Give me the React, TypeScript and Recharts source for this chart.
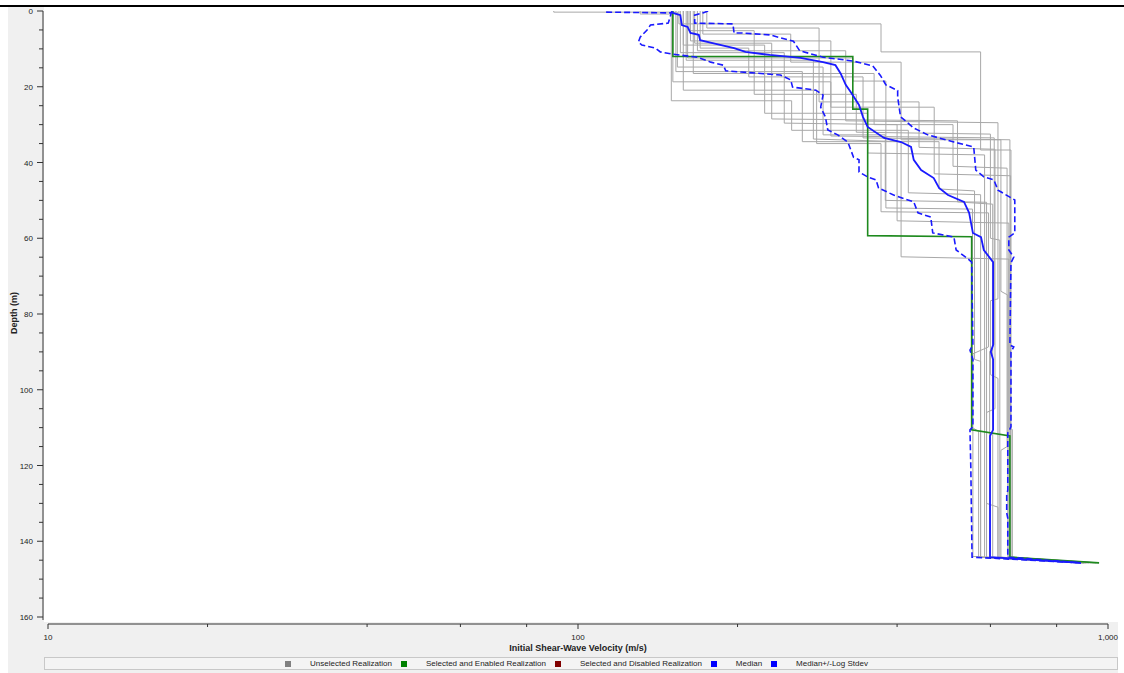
import React from "react";
import { LineChart, Line, XAxis, YAxis } from "recharts";

// [velocity (m/s), depth (m)]
type Pt = [number, number];

const xTicks = [10, 20, 40, 60, 80, 100, 200, 400, 600, 800, 1000];
const xMajor = [10, 100, 1000];
const yTicks = [
  0, 5, 10, 15, 20, 25, 30, 35, 40, 45, 50, 55, 60, 65, 70, 75, 80, 85, 90, 95,
  100, 105, 110, 115, 120, 125, 130, 135, 140, 145, 150, 155, 160,
];

const real01: Pt[] = [[155, 0], [155, 3.4], [373, 3.4], [373, 10.8], [575, 10.8], [575, 36.7], [656, 36.7], [656, 144.2], [900, 145.7]];
const real02: Pt[] = [[151, 0], [151, 18.7], [300, 18.7], [300, 33], [610, 33.5], [610, 88], [598, 90], [598, 144.2], [910, 145.7]];
const real03: Pt[] = [[158, 0], [158, 20.9], [282, 20.9], [282, 35], [373, 35], [373, 53], [595, 53.3], [595, 88.7], [556, 90.5], [556, 144], [880, 145.5]];
const real04: Pt[] = [[172, 0], [172, 6.1], [252, 6.1], [252, 13.5], [407, 13.5], [407, 34], [628, 34], [628, 74], [647, 75], [647, 144.2], [950, 145.7]];
const real05: Pt[] = [[166, 0], [166, 8.5], [232, 8.5], [232, 28.5], [520, 29], [520, 50.4], [606, 51], [606, 144.2], [920, 145.7]];
const real06: Pt[] = [[161, 0], [161, 12.4], [330, 12.4], [330, 18.5], [381, 18.5], [381, 52], [555, 52.3], [555, 110], [570, 111], [570, 144.2], [900, 145.7]];
const real07: Pt[] = [[170, 0], [170, 9.8], [210, 9.8], [210, 17.4], [345, 17.4], [345, 33.5], [653, 34], [653, 144.2], [960, 145.7]];
const real08: Pt[] = [[90, 0], [90, 0.3], [154, 0.3], [154, 14.8], [290, 14.8], [290, 32.7], [380, 32.7], [380, 50], [590, 50.5], [590, 130], [620, 131], [620, 144.2], [900, 145.7]];
const real09: Pt[] = [[163, 0], [163, 7.9], [300, 7.9], [300, 25.4], [470, 25.4], [470, 43], [655, 43.5], [655, 144.2], [940, 145.7]];
const real10: Pt[] = [[156, 0], [156, 11], [245, 11], [245, 29.6], [400, 30], [400, 55.4], [650, 56], [650, 110], [660, 110.5], [660, 144.2], [930, 145.7]];
const real11: Pt[] = [[175, 0], [175, 4.5], [285, 4.5], [285, 24], [440, 24], [440, 36], [612, 36.5], [612, 105], [590, 106], [590, 144.2], [920, 145.7]];
const real12: Pt[] = [[131, 0], [131, 0.8], [150, 0.8], [150, 23.7], [253, 23.7], [253, 31.5], [420, 31.5], [420, 48], [575, 48.5], [575, 144.2], [890, 145.7]];
const real13: Pt[] = [[168, 0], [168, 10.5], [320, 10.5], [320, 29], [620, 29.5], [620, 76], [600, 76.5], [600, 96], [620, 97], [620, 144.2], [910, 145.7]];
const real14: Pt[] = [[160, 0], [160, 13], [278, 13], [278, 33.8], [407, 34.5], [407, 64.9], [650, 65.5], [650, 144.2], [870, 145.7]];
const real15: Pt[] = [[165, 0], [165, 16.5], [362, 16.5], [362, 30], [510, 30], [510, 41], [645, 41.5], [645, 115], [628, 116], [628, 144.2], [950, 145.7]];
const real16: Pt[] = [[158, 0], [158, 9], [225, 9], [225, 27], [352, 27], [352, 37.5], [585, 38], [585, 144.2], [900, 145.7]];
const real17: Pt[] = [[162, 0], [162, 5.2], [215, 5.2], [215, 22], [335, 22], [335, 32], [600, 32.5], [600, 60], [625, 60.5], [625, 144.2], [905, 145.7]];
const real18: Pt[] = [[153, 0], [153, 16], [265, 16], [265, 34.5], [480, 34.5], [480, 47], [560, 47.5], [560, 92], [575, 92.5], [575, 144.2], [880, 145.7]];

const unselected = [
  real01, real02, real03, real04, real05, real06, real07, real08, real09,
  real10, real11, real12, real13, real14, real15, real16, real17, real18,
];

const selectedEnabled: Pt[] = [
  [151, 0], [151, 12], [330, 12], [330, 25.9], [352, 25.9], [352, 59.3],
  [553, 59.6], [553, 110.6], [653, 112.2], [653, 144.2], [962, 145.7],
];

const median: Pt[] = [
  [150, 0], [151, 0.5], [156, 1.1], [157, 3.7], [161, 4.2], [163, 5.8], [169, 6.3],
  [170, 7.7], [182, 8.7], [197, 9.8], [207, 10.8], [230, 11.6], [263, 12.4],
  [290, 13.5], [306, 14.3], [313, 16.5], [320, 19.5], [327, 21.4], [339, 24.8],
  [345, 28], [352, 30.6], [378, 33.5], [407, 34.6], [425, 35.9], [430, 39.3],
  [444, 42], [469, 44.1], [480, 46.7], [499, 48.6], [535, 50.4], [547, 53.3],
  [556, 58.6], [576, 59.7], [583, 63.1], [607, 66.3], [607, 88.2], [601, 90],
  [607, 92], [607, 110.6], [599, 112.2], [599, 144.2], [889, 145.7],
];

const medianMinusStd: Pt[] = [
  [113, 0.3], [150, 0.5], [148, 3.2], [137, 3.7], [135, 5.0], [131, 6.9], [130, 8.2],
  [132, 9.0], [140, 9.8], [143, 10.8], [151, 11.4], [168, 12.2], [178, 13.5],
  [188, 14.3], [190, 15.8], [203, 16.1], [241, 16.9], [252, 18.2], [254, 20.1],
  [281, 20.9], [290, 22.2], [287, 25.4], [293, 28], [296, 31.4], [309, 32.7],
  [323, 34.6], [331, 38.6], [339, 39.3], [339, 42.5], [352, 43.8], [365, 44.6],
  [369, 46.7], [394, 48.6], [430, 50.4], [438, 53.3], [463, 54.4], [467, 58.6],
  [512, 59.7], [517, 63.1], [547, 65.7], [553, 66.3], [556, 88.2], [549, 89.5],
  [556, 92], [556, 109.8], [549, 110.6], [551, 120.4], [554, 144.2], [889, 145.7],
];

const medianPlusStd: Pt[] = [
  [176, 0], [172, 0.5], [166, 1.1], [166, 3.2], [196, 3.4], [197, 5.8], [203, 5.8],
  [230, 6.3], [255, 8], [262, 10.5], [290, 12.2], [330, 13.2], [360, 14.5],
  [372, 17], [381, 19.5], [401, 21], [401, 22.7], [406, 27.9], [430, 30.9],
  [457, 32.7], [512, 34.6], [558, 35.9], [563, 42], [583, 43.8], [609, 44.6],
  [620, 47.3], [667, 49.9], [667, 58.6], [650, 59.7], [650, 63.1], [664, 65],
  [656, 66.5], [653, 88.2], [664, 88.7], [656, 90], [656, 109.8], [647, 111.4],
  [647, 126.5], [644, 127.8], [644, 132.5], [647, 133.9], [647, 144.2], [889, 145.7],
];

const legendItems = [
  { label: "Unselected Realization", color: "#808080" },
  { label: "Selected and Enabled Realization", color: "#008000" },
  { label: "Selected and Disabled Realization", color: "#800000" },
  { label: "Median", color: "#0000ff" },
  { label: "Median+/-Log Stdev", color: "#0000ff" },
];

const toRows = (pts: Pt[]) => pts.map(([v, d]) => ({ v, d }));

const FONT = '"Liberation Sans", Arial, sans-serif';
const PLOT_W = 1060;
const PLOT_H = 606;

const XTick = (props: any) => {
  const { x, y, payload } = props;
  const v = payload.value;
  const major = xMajor.includes(v);
  const ay = y + 7;
  return (
    <g>
      {v === 10 && <line x1={x} x2={x + PLOT_W} y1={ay} y2={ay} stroke="#333" />}
      <line x1={x} x2={x} y1={ay} y2={ay + (major ? 5 : 3)} stroke="#333" />
      {major && (
        <text x={x} y={ay + 16} textAnchor="middle" fontSize={8} fontFamily={FONT} fill="#222">
          {v.toLocaleString("en-US")}
        </text>
      )}
    </g>
  );
};

const YTick = (props: any) => {
  const { x, y, payload } = props;
  const v = payload.value;
  const major = v % 20 === 0;
  const ax = x - 5;
  return (
    <g>
      {v === 0 && <line x1={ax} x2={ax} y1={y} y2={y + PLOT_H + 3} stroke="#333" />}
      <line x1={ax - (major ? 6 : 4)} x2={ax} y1={y} y2={y} stroke="#333" />
      {major && (
        <text x={ax - 10} y={y} dy={3} textAnchor="end" fontSize={8} fontFamily={FONT} fill="#222">
          {v}
        </text>
      )}
    </g>
  );
};

export default function App() {
  return (
    <div style={{ position: "absolute", left: 0, top: 0, width: 1124, height: 673, background: "#fff", overflow: "hidden" }}>
      <div style={{ position: "absolute", left: 0, top: 5, width: 1124, height: 2, background: "#000" }} />
      <div style={{ position: "absolute", left: 8, top: 7, width: 1110, height: 666, background: "#f0f0f0" }} />
      <div style={{ position: "absolute", left: 44, top: 7, width: 1074, height: 615, background: "#fff" }} />
      <div style={{ position: "absolute", left: 0, top: 0 }}>
        <LineChart width={1124} height={673} margin={{ top: 11, right: 16, left: 8, bottom: 26 }}>
          <XAxis
            type="number"
            dataKey="v"
            scale="log"
            domain={[10, 1000]}
            allowDataOverflow
            ticks={xTicks}
            interval={0}
            height={30}
            axisLine={false}
            tickLine={false}
            tickSize={0}
            tickMargin={0}
            tick={<XTick />}
          />
          <YAxis
            type="number"
            dataKey="d"
            domain={[0, 160]}
            reversed
            allowDataOverflow
            ticks={yTicks}
            interval={0}
            width={40}
            axisLine={false}
            tickLine={false}
            tickSize={0}
            tickMargin={0}
            tick={<YTick />}
          />
          {unselected.map((r, i) => (
            <Line
              key={`u${i}`}
              data={toRows(r)}
              dataKey="d"
              type="linear"
              stroke="#a8a8a8"
              strokeWidth={1}
              dot={false}
              activeDot={false}
              isAnimationActive={false}
            />
          ))}
          <Line
            data={toRows(selectedEnabled)}
            dataKey="d"
            type="linear"
            stroke="#1e8a1e"
            strokeWidth={1.6}
            dot={false}
            activeDot={false}
            isAnimationActive={false}
          />
          <Line
            data={toRows(medianMinusStd)}
            dataKey="d"
            type="linear"
            stroke="#1a1aff"
            strokeWidth={1.6}
            strokeDasharray="6 3"
            dot={false}
            activeDot={false}
            isAnimationActive={false}
          />
          <Line
            data={toRows(medianPlusStd)}
            dataKey="d"
            type="linear"
            stroke="#1a1aff"
            strokeWidth={1.6}
            strokeDasharray="6 3"
            dot={false}
            activeDot={false}
            isAnimationActive={false}
          />
          <Line
            data={toRows(median)}
            dataKey="d"
            type="linear"
            stroke="#1a1aff"
            strokeWidth={1.8}
            dot={false}
            activeDot={false}
            isAnimationActive={false}
          />
        </LineChart>
      </div>
      <svg style={{ position: "absolute", left: 0, top: 0 }} width={1124} height={673}>
        <text x={578} y={651} textAnchor="middle" fontSize={9} fontWeight="bold" fontFamily={FONT} fill="#222">
          Initial Shear-Wave Velocity (m/s)
        </text>
        <text
          x={17}
          y={313}
          textAnchor="middle"
          fontSize={9}
          fontWeight="bold"
          fontFamily={FONT}
          fill="#222"
          transform="rotate(-90 17 313)"
        >
          Depth (m)
        </text>
      </svg>
      <div
        style={{
          position: "absolute",
          left: 44,
          top: 657,
          width: 1072,
          height: 11,
          border: "1px solid #c8c8c8",
          background: "#f4f4f4",
          display: "flex",
          alignItems: "center",
          justifyContent: "center",
          fontFamily: FONT,
          fontSize: 8,
          color: "#222",
        }}
      >
        {legendItems.map((it) => (
          <div key={it.label} style={{ display: "flex", alignItems: "center" }}>
            <span style={{ width: 6, height: 6, background: it.color, marginRight: 19, marginLeft: 0 }} />
            <span style={{ marginRight: 9, whiteSpace: "nowrap" }}>{it.label}</span>
          </div>
        ))}
      </div>
    </div>
  );
}
